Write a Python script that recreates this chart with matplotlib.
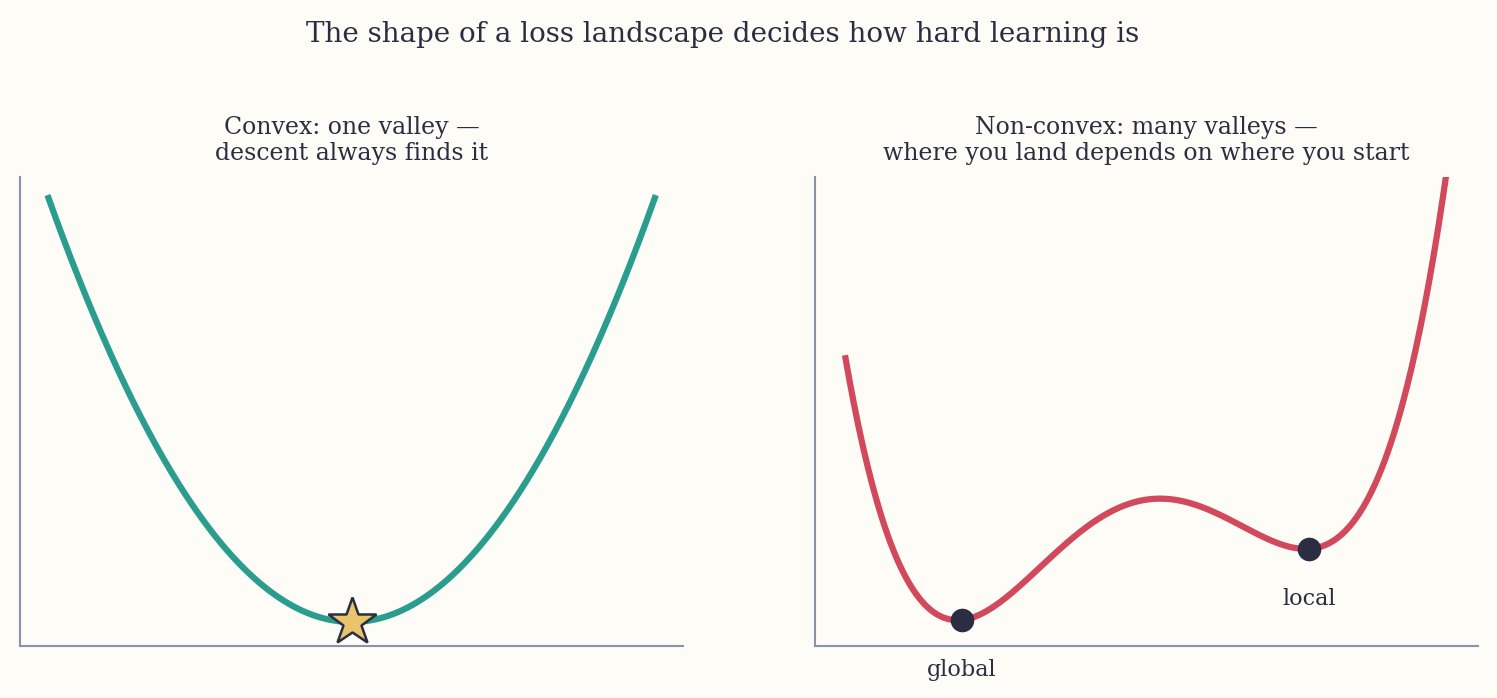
import numpy as np
import matplotlib.pyplot as plt

plt.rcParams['font.family'] = ['DejaVu Serif']

# convex loss: y = a*x^2 + c over [x_lo, x_hi]
convex_coef = [1.0, 0.0]
convex_range = [-2.0, 2.0]

# non-convex loss: y = a*u^4 + b*u^3 + d*u^2
nonconvex_coef = [0.25, 0.19, -1.475]
nonconvex_range = [-3.15, 2.86]
minima_x = [-1.98, 1.49]
minima_labels = ["global", "local"]

BG = "#fdfcf7"
DARK = "#2b2d42"
AXIS = "#8a93ab"

fig = plt.figure(figsize=(14.97, 6.98), dpi=100, facecolor=BG)
ax1 = fig.add_axes([0.0134, 0.0745, 0.443, 0.672])
ax2 = fig.add_axes([0.5444, 0.0745, 0.443, 0.672])

for ax in (ax1, ax2):
    ax.set_facecolor(BG)
    for s in ("top", "right"):
        ax.spines[s].set_visible(False)
    for s in ("left", "bottom"):
        ax.spines[s].set_color(AXIS)
        ax.spines[s].set_linewidth(1.5)
    ax.set_xticks([])
    ax.set_yticks([])

def convex(x):
    return convex_coef[0] * x ** 2 + convex_coef[1]

def nonconvex(u):
    return nonconvex_coef[0] * u ** 4 + nonconvex_coef[1] * u ** 3 + nonconvex_coef[2] * u ** 2

x = np.linspace(*convex_range, 400)
ax1.plot(x, convex(x), color="#2a9d8f", lw=4.5, solid_capstyle="butt")
ax1.plot([0], [convex(0)], marker="*", ms=36, color="#e9c46a",
         markeredgecolor=DARK, markeredgewidth=1.8, zorder=5)
ax1.set_xlim(-2.18, 2.18)
ax1.set_ylim(-0.225, 4.17)
ax1.set_title("Convex: one valley —\ndescent always finds it", fontsize=17,
              color=DARK, linespacing=1.2, pad=12)

u = np.linspace(*nonconvex_range, 400)
ax2.plot(u, nonconvex(u), color="#d1495b", lw=4.5, solid_capstyle="butt")
for mx, lab in zip(minima_x, minima_labels):
    my = nonconvex(mx)
    ax2.plot([mx], [my], "o", ms=16, color=DARK, zorder=5)
    ax2.annotate(lab, (mx, my), xytext=(0, -36), textcoords="offset points",
                 ha="center", va="center", fontsize=16, color=DARK)
ax2.set_xlim(-3.45, 3.18)
ax2.set_ylim(-4.15, 9.06)
ax2.set_title("Non-convex: many valleys —\nwhere you land depends on where you start",
              fontsize=17, color=DARK, linespacing=1.2, pad=12)

fig.suptitle("The shape of a loss landscape decides how hard learning is",
             fontsize=20, color=DARK, x=0.483, y=0.97)

fig.savefig("out.png", dpi=100, facecolor=BG)
